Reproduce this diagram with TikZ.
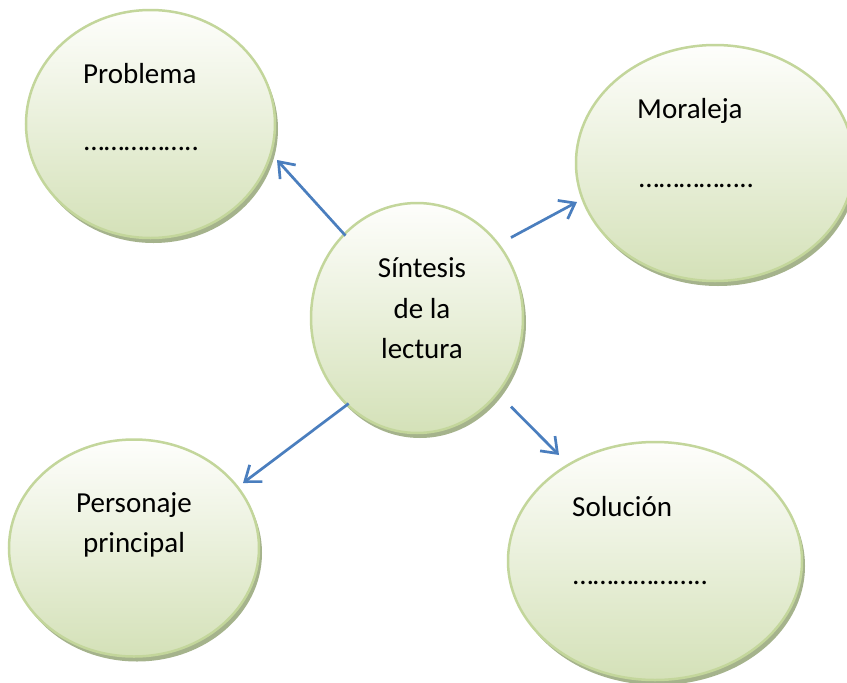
\documentclass[tikz,border=0pt]{standalone}
\usepackage{fontspec}
\setmainfont{Carlito}
\usetikzlibrary{arrows.meta,shapes.geometric}
\definecolor{outl}{RGB}{195,214,155}
\definecolor{topc}{RGB}{254,254,252}
\definecolor{botc}{RGB}{212,225,184}
\definecolor{shad}{RGB}{165,179,140}
\definecolor{linkc}{RGB}{74,126,190}
\tikzset{
  bub/.style={ellipse, draw=outl, line width=2.5pt, top color=topc, bottom color=botc, inner sep=0pt},
  bubshadow/.style={ellipse, fill=shad, inner sep=0pt, outer sep=0pt},
  lbl/.style={font=\fontsize{29}{35}\selectfont, inner sep=0pt, text=black},
  link/.style={draw=linkc, line width=2.7pt, -{Straight Barb[length=14pt,width=21pt]}},
}
\newcommand\mybubble[5]{%
  \node[bubshadow, minimum width=#4pt, minimum height=#5pt] (#1s) at (#2+3,#3+5) {};
  \node[bub, minimum width=#4pt, minimum height=#5pt] (#1) at (#2,#3) {};
}
\begin{document}
\begin{tikzpicture}[x=1pt,y=-1pt]
\useasboundingbox (0,0) rectangle (847,683);
\fill[white] (0,0) rectangle (847,683);
% bubbles
\mybubble{prob}{150.5}{124}{249}{228}
\mybubble{mor}{715}{163}{278}{236}
\mybubble{sint}{417}{318}{212}{230}
\mybubble{pers}{134}{548}{250}{217}
\mybubble{sol}{655}{561}{294}{238}
% texts
\node[lbl, anchor=base west] (probt) at (83,83) {Problema};
\node[lbl, anchor=base west] (probd) at (84,150) {……………..};
\node[lbl, anchor=base west] (mort) at (637,118) {Moraleja};
\node[lbl, anchor=base west] (mord) at (639,187) {……………..};
\node[lbl, anchor=base] (sint1) at (422,277) {Síntesis};
\node[lbl, anchor=base] (sint2) at (422,318) {de la};
\node[lbl, anchor=base] (sint3) at (422,358) {lectura};
\node[lbl, anchor=base] (pers1) at (134,512) {Personaje};
\node[lbl, anchor=base] (pers2) at (134,552) {principal};
\node[lbl, anchor=base west] (solt) at (572,516) {Solución};
\node[lbl, anchor=base west] (sold) at (573,584) {………………..};
% arrow tips
\coordinate (t1) at (277,160);
\coordinate (t2) at (577,202);
\coordinate (t3) at (243,483);
\coordinate (t4) at (559,455);
\draw[link, shorten <=-3pt] (sint.131) -- (t1);
\draw[link, shorten <=13pt] (sint.42) -- (t2);
\draw[link, shorten <=-3pt] (sint.231) -- (t3);
\draw[link, shorten <=18pt] (sint.-43) -- (t4);
\end{tikzpicture}
\end{document}
